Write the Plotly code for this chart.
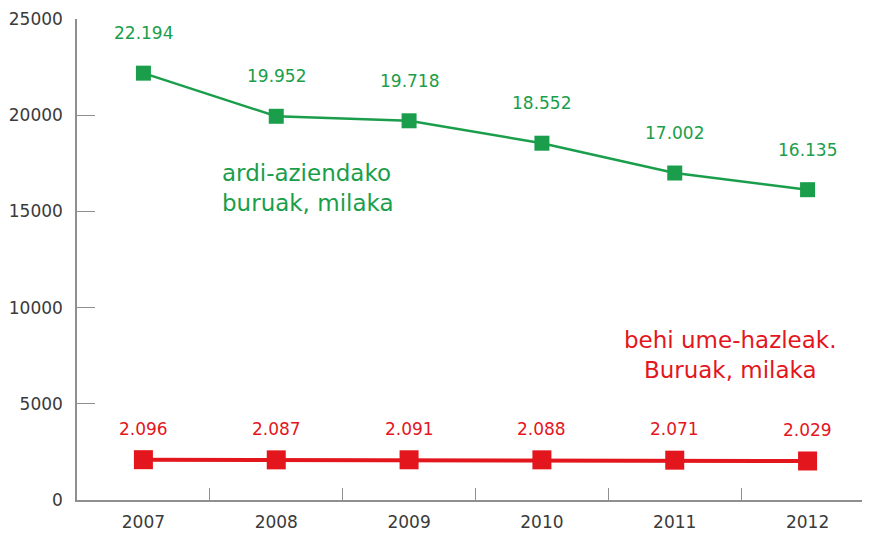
import plotly.graph_objects as go

years = ["2007", "2008", "2009", "2010", "2011", "2012"]
ardi = [22194, 19952, 19718, 18552, 17002, 16135]
ardi_labels = ["22.194", "19.952", "19.718", "18.552", "17.002", "16.135"]
behi = [2096, 2087, 2091, 2088, 2071, 2029]
behi_labels = ["2.096", "2.087", "2.091", "2.088", "2.071", "2.029"]
y_ticks = [0, 5000, 10000, 15000, 20000, 25000]
y_ticktext = ["0", "5000", "10000", "15000", "20000", "25000"]

GREEN = "#1a9e4b"
RED = "#e3161d"
FONT = "DejaVu Sans"
AXIS = "#8f8f8f"
TXT = "#3a3a3a"

fig = go.Figure()
fig.add_trace(go.Scatter(x=years, y=ardi, mode="lines+markers",
                         line=dict(color=GREEN, width=2.5),
                         marker=dict(symbol="square", size=15, color=GREEN),
                         showlegend=False, hoverinfo="skip"))
fig.add_trace(go.Scatter(x=years, y=behi, mode="lines+markers",
                         line=dict(color=RED, width=4),
                         marker=dict(symbol="square", size=19, color=RED),
                         showlegend=False, hoverinfo="skip"))

ann = []
for i, (y, t) in enumerate(zip(ardi, ardi_labels)):
    ann.append(dict(x=i, y=y, xref="x", yref="y", text=t, showarrow=False, yshift=40,
                    font=dict(family=FONT, size=17, color=GREEN)))
for i, (y, t) in enumerate(zip(behi, behi_labels)):
    ann.append(dict(x=i, y=y, xref="x", yref="y", text=t, showarrow=False, yshift=31,
                    font=dict(family=FONT, size=17, color=RED)))
ann.append(dict(xref="paper", yref="paper", x=(220-77)/793, y=(500-188)/481,
                xanchor="left", yanchor="middle", align="left", showarrow=False,
                text="ardi-aziendako<br>buruak, milaka",
                font=dict(family=FONT, size=23, color=GREEN)))
ann.append(dict(xref="paper", yref="paper", x=(730-77)/793, y=(500-355)/481,
                xanchor="center", yanchor="middle", align="center", showarrow=False,
                text="behi ume-hazleak.<br>Buruak, milaka",
                font=dict(family=FONT, size=23, color=RED)))

fig.update_layout(
    width=862, height=527,
    margin=dict(l=69, r=0, t=11, b=35, autoexpand=False),
    paper_bgcolor="white", plot_bgcolor="white",
    annotations=ann,
    xaxis=dict(type="category", range=[-0.5, 5.47], showgrid=False, automargin=False,
               showline=True, linecolor=AXIS, linewidth=1.5,
               ticks="inside", tickson="boundaries", ticklen=12, tickcolor=AXIS,
               ticklabelstandoff=6,
               tickfont=dict(family=FONT, size=17, color=TXT), zeroline=False),
    yaxis=dict(range=[0, 25010], tickvals=y_ticks, ticktext=y_ticktext, automargin=False,
               showgrid=False, showline=True, linecolor=AXIS, linewidth=1.5,
               ticks="inside", ticklen=18, tickcolor=AXIS, zeroline=False,
               ticklabelstandoff=9, ticklabeloverflow="allow",
               tickfont=dict(family=FONT, size=17, color=TXT)),
)
fig.write_html("out.html")
